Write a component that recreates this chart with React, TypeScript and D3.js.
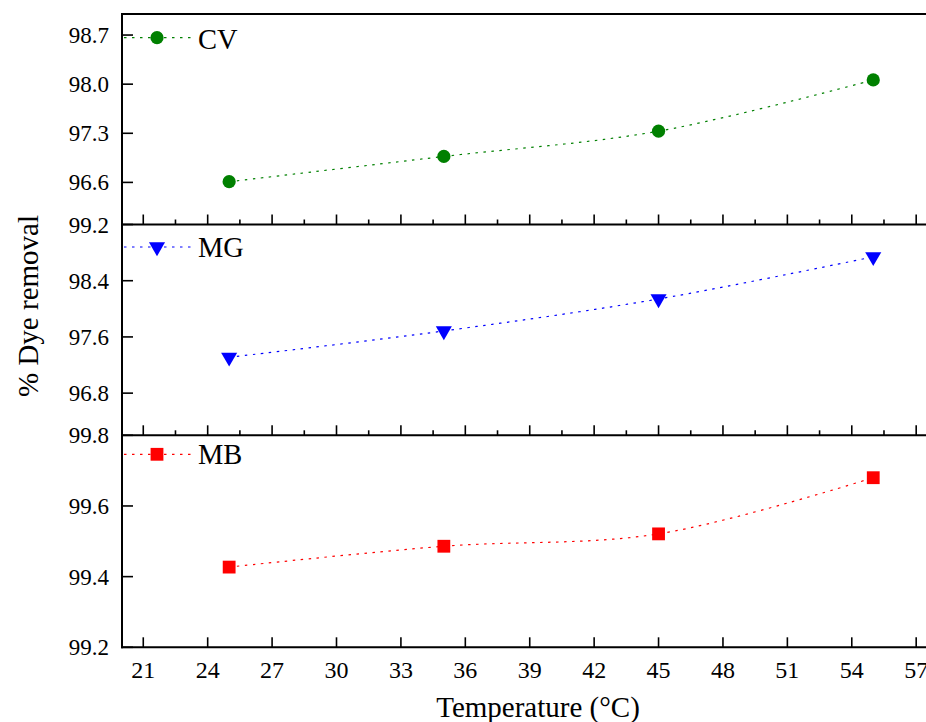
import React from "react";
import * as d3 from "d3";

const temps = [25, 35, 45, 55];
const cvValues = [96.61, 96.97, 97.33, 98.06];
const mgValues = [97.31, 97.685, 98.14, 98.74];
const mbValues = [99.427, 99.486, 99.521, 99.68];

const xMajorTicks = [21, 24, 27, 30, 33, 36, 39, 42, 45, 48, 51, 54, 57];
const xMinorTicks = [22.5, 25.5, 28.5, 31.5, 34.5, 37.5, 40.5, 43.5, 46.5, 49.5, 52.5, 55.5];

const cvTicks = [96.6, 97.3, 98.0, 98.7];
const mgTicks = [96.8, 97.6, 98.4, 99.2];
const mbTicks = [99.2, 99.4, 99.6, 99.8];

const W = 926;
const H = 722;
const FONT = "'Liberation Serif', 'Times New Roman', serif";

const left = 122;
const right = 960;
const x = d3.scaleLinear().domain([20, 59]).range([121.8, 121.8 + 39 * 21.47]);

type Panel = {
  name: string;
  values: number[];
  ticks: number[];
  domain: [number, number];
  top: number;
  bottom: number;
  color: string;
  marker: "circle" | "triangle" | "square";
  fmt: string;
  minor: boolean;
  legendY: number;
  legendTextY: number;
};

const panels: Panel[] = [
  { name: "CV", values: cvValues, ticks: cvTicks, domain: [96, 99], top: 14, bottom: 224.5, color: "#008000", marker: "circle", fmt: ".1f", minor: true, legendY: 37.7, legendTextY: 48.5 },
  { name: "MG", values: mgValues, ticks: mgTicks, domain: [96.2, 99.2], top: 224.5, bottom: 435.3, color: "#0000ff", marker: "triangle", fmt: ".1f", minor: true, legendY: 247, legendTextY: 256.7 },
  { name: "MB", values: mbValues, ticks: mbTicks, domain: [99.2, 99.8], top: 435.3, bottom: 647.3, color: "#ff0000", marker: "square", fmt: ".1f", minor: false, legendY: 454.3, legendTextY: 464.3 },
];

function Marker({ type, cx, cy, color }: { type: string; cx: number; cy: number; color: string }) {
  if (type === "circle") return <circle cx={cx} cy={cy} r={6.6} fill={color} />;
  if (type === "square") return <rect x={cx - 6.4} y={cy - 6.4} width={12.8} height={12.8} fill={color} />;
  const p = d3.symbol().type(d3.symbolTriangle).size(112)();
  return <path d={p || ""} transform={`translate(${cx},${cy}) rotate(180)`} fill={color} />;
}

export default function App() {
  return (
    <svg width={W} height={H} style={{ position: "absolute", left: 0, top: 0, background: "#fff" }} fontFamily={FONT}>
      <rect x={0} y={0} width={W} height={H} fill="#fff" />
      {panels.map((p) => {
        const y = d3.scaleLinear().domain(p.domain).range([p.bottom, p.top]);
        const line = d3
          .line<number>()
          .x((_, i) => x(temps[i]))
          .y((v) => y(v))
          .curve(d3.curveCatmullRom.alpha(0.5));
        return (
          <g key={p.name}>
            {xMajorTicks.map((t) => (
              <line key={"M" + t} x1={x(t)} x2={x(t)} y1={p.bottom} y2={p.bottom - 10} stroke="#000" strokeWidth={1.6} />
            ))}
            {p.minor &&
              xMinorTicks.map((t) => (
                <line key={"m" + t} x1={x(t)} x2={x(t)} y1={p.bottom} y2={p.bottom - 5} stroke="#000" strokeWidth={1.6} />
              ))}
            {p.ticks.map((t) => (
              <g key={"y" + t}>
                <line x1={left} x2={left + 11} y1={y(t)} y2={y(t)} stroke="#000" strokeWidth={1.6} />
                <text x={109} y={y(t)} dy="0.35em" textAnchor="end" fontSize={23} fill="#000" fontFamily={FONT}>
                  {d3.format(p.fmt)(t)}
                </text>
              </g>
            ))}
            <path d={line(p.values) || ""} fill="none" stroke={p.color} strokeWidth={1.2} strokeDasharray="2.5,5.5" />
            {p.values.map((v, i) => (
              <Marker key={i} type={p.marker} cx={x(temps[i])} cy={y(v)} color={p.color} />
            ))}
            <line x1={left + 2} x2={192} y1={p.legendY} y2={p.legendY} stroke={p.color} strokeWidth={1.2} strokeDasharray="2.5,5.5" />
            <Marker type={p.marker} cx={157} cy={p.legendY} color={p.color} />
            <text x={198} y={p.legendTextY} fontSize={28.5} fill="#000" fontFamily={FONT}>
              {p.name}
            </text>
            <line x1={left - 1} x2={right} y1={p.bottom} y2={p.bottom} stroke="#000" strokeWidth={2} />
          </g>
        );
      })}
      <line x1={left - 1} x2={right} y1={14} y2={14} stroke="#000" strokeWidth={2} />
      <line x1={left} x2={left} y1={13} y2={648.3} stroke="#000" strokeWidth={2} />
      {xMajorTicks.map((t) => (
        <text key={t} x={x(t)} y={678} textAnchor="middle" fontSize={24} fill="#000" fontFamily={FONT}>
          {t}
        </text>
      ))}
      <text x={538} y={716.5} textAnchor="middle" fontSize={29} fill="#000" fontFamily={FONT}>
        Temperature (°C)
      </text>
      <text transform={`translate(38,306) rotate(-90)`} textAnchor="middle" fontSize={29} fill="#000" fontFamily={FONT}>
        % Dye removal
      </text>
    </svg>
  );
}
